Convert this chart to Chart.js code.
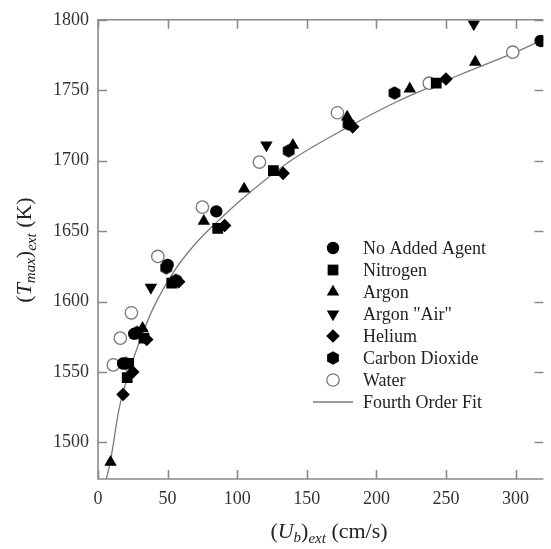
<!DOCTYPE html>
<html>
<head>
<meta charset="utf-8">
<script src="https://cdn.jsdelivr.net/npm/chart.js@4"></script>
<style>
  body { margin: 0; background: #fff; }
  canvas { display: block; }
</style>
</head>
<body>
<canvas id="tmaxchart" width="551" height="549"></canvas>
<script>
// data
const noAgentX = [18, 26, 50, 85, 318];
const noAgentY = [1556, 1577, 1626, 1664, 1785];
const nitrogenX = [21, 22, 33, 53, 86, 126, 243];
const nitrogenY = [1546, 1556, 1574, 1613, 1652, 1693, 1755];
const argonX = [9, 32, 76, 105, 140, 179, 224, 271];
const argonY = [1486, 1581, 1657, 1680, 1711, 1731, 1751, 1770];
const argonAirX = [38, 121, 270];
const argonAirY = [1610, 1711, 1797];
const heliumX = [18, 25, 35, 58, 91, 133, 183, 250];
const heliumY = [1534, 1550, 1573, 1614, 1654, 1691, 1724, 1758];
const co2X = [20, 28, 49, 56, 137, 180, 213];
const co2Y = [1556, 1578, 1624, 1615, 1707, 1726, 1748];
const waterX = [11, 16, 24, 43, 75, 116, 172, 238, 298];
const waterY = [1555, 1574, 1592, 1632, 1667, 1699, 1734, 1755, 1777];
// fourth order fit, sampled off the drawn curve
const fitX = [6, 9, 15, 22, 30, 40, 55, 70, 85, 105, 140, 180, 215, 260, 300, 322];
const fitY = [1474, 1487, 1523, 1549, 1572, 1596, 1622, 1641, 1656, 1674, 1701, 1724, 1742, 1761, 1777, 1787];

const xTicks = [0, 50, 100, 150, 200, 250, 300];
const yTicks = [1500, 1550, 1600, 1650, 1700, 1750, 1800];

const serif = "'Liberation Serif', 'DejaVu Serif', serif";
const axisGray = "#8a8a8a";

function pts(xs, ys) {
  return xs.map((x, i) => ({ x: x, y: ys[i] }));
}

// hexagon marker for carbon dioxide (no built-in style for it)
function hexMarker(r) {
  const c = document.createElement("canvas");
  c.width = c.height = Math.ceil(r * 2 + 2);
  const g = c.getContext("2d");
  const m = c.width / 2;
  g.beginPath();
  for (let k = 0; k < 6; k++) {
    const a = Math.PI / 6 + k * Math.PI / 3;
    const px = m + r * Math.cos(a), py = m + r * Math.sin(a);
    k ? g.lineTo(px, py) : g.moveTo(px, py);
  }
  g.closePath();
  g.fillStyle = "#000";
  g.fill();
  return c;
}
const hexImg = hexMarker(6.8);

const sets = [
  { label: "No Added Agent", data: pts(noAgentX, noAgentY), pointStyle: "circle", radius: 6.2 },
  { label: "Nitrogen", data: pts(nitrogenX, nitrogenY), pointStyle: "rect", radius: 7.6 },
  { label: "Argon", data: pts(argonX, argonY), pointStyle: "triangle", radius: 7.2 },
  { label: 'Argon "Air"', data: pts(argonAirX, argonAirY), pointStyle: "triangle", radius: 7.2, rotation: 180 },
  { label: "Helium", data: pts(heliumX, heliumY), pointStyle: "rectRot", radius: 6.8 },
  { label: "Carbon Dioxide", data: pts(co2X, co2Y), pointStyle: hexImg, radius: 6.8 },
  { label: "Water", data: pts(waterX, waterY), pointStyle: "circle", radius: 6.2, open: true }
];

const datasets = [{
  label: "Fourth Order Fit",
  data: pts(fitX, fitY),
  showLine: true,
  pointRadius: 0,
  borderColor: "#7a7a7a",
  borderWidth: 1.3,
  cubicInterpolationMode: "monotone",
  order: 10
}].concat(sets.map(s => ({
  label: s.label,
  data: s.data,
  pointStyle: s.pointStyle,
  pointRadius: s.radius,
  pointRotation: s.rotation || 0,
  backgroundColor: s.open ? "#ffffff" : "#000000",
  borderColor: s.open ? "#777777" : "#000000",
  borderWidth: s.open ? 1.3 : 0,
  showLine: false
})));

// draws a run of text pieces (normal / italic subscript) centred on 0,0
function drawPieces(ctx, pieces) {
  let total = 0;
  pieces.forEach(p => {
    ctx.font = (p.it ? "italic " : "") + p.size + "px " + serif;
    p.w = ctx.measureText(p.t).width;
    total += p.w;
  });
  let x = -total / 2;
  ctx.textAlign = "left";
  ctx.textBaseline = "alphabetic";
  pieces.forEach(p => {
    ctx.font = (p.it ? "italic " : "") + p.size + "px " + serif;
    ctx.fillText(p.t, x, p.dy || 0);
    x += p.w;
  });
}

const framePlugin = {
  id: "frameAndLegend",
  afterDraw: (chart) => {
    const ctx = chart.ctx;
    const a = chart.chartArea;
    const xs = chart.scales.x, ys = chart.scales.y;
    const tl = 9;
    ctx.save();
    ctx.strokeStyle = axisGray;
    ctx.lineWidth = 1.6;
    ctx.beginPath();
    ctx.moveTo(a.right, a.top); ctx.lineTo(a.left, a.top);
    ctx.lineTo(a.left, a.bottom); ctx.lineTo(a.right, a.bottom);
    xTicks.forEach(v => {
      const px = Math.round(xs.getPixelForValue(v)) + 0.5;
      ctx.moveTo(px, a.bottom); ctx.lineTo(px, a.bottom - tl);
      ctx.moveTo(px, a.top); ctx.lineTo(px, a.top + tl);
    });
    yTicks.forEach(v => {
      const py = Math.round(ys.getPixelForValue(v)) + 0.5;
      ctx.moveTo(a.left, py); ctx.lineTo(a.left + tl, py);
      ctx.moveTo(a.right, py); ctx.lineTo(a.right - tl, py);
    });
    ctx.stroke();

    // axis titles with subscripts
    ctx.fillStyle = "#222";
    ctx.save();
    ctx.translate(31, 250);
    ctx.rotate(-Math.PI / 2);
    drawPieces(ctx, [
      { t: "(", size: 22 }, { t: "T", size: 22, it: true },
      { t: "max", size: 15, it: true, dy: 4 }, { t: ")", size: 22 },
      { t: "ext", size: 15, it: true, dy: 5 }, { t: " (K)", size: 22 }
    ]);
    ctx.restore();
    ctx.save();
    ctx.translate(329, 538);
    drawPieces(ctx, [
      { t: "(", size: 22 }, { t: "U", size: 22, it: true },
      { t: "b", size: 15, it: true, dy: 4 }, { t: ")", size: 22 },
      { t: "ext", size: 15, it: true, dy: 5 }, { t: " (cm/s)", size: 22 }
    ]);
    ctx.restore();

    // legend inside the plot
    const lx = 333, tx = 363;
    const rows = [248, 270, 292, 314, 336, 358, 380];
    ctx.font = "18px " + serif;
    ctx.textBaseline = "middle";
    ctx.textAlign = "left";
    sets.forEach((s, i) => {
      ctx.fillStyle = s.open ? "#ffffff" : "#000000";
      ctx.strokeStyle = s.open ? "#777777" : "#000000";
      ctx.lineWidth = s.open ? 1.3 : 0;
      Chart.helpers.drawPoint(ctx, {
        pointStyle: s.pointStyle, radius: s.radius,
        rotation: s.rotation || 0, borderWidth: s.open ? 1.3 : 0
      }, lx, rows[i]);
      ctx.fillStyle = "#222";
      ctx.fillText(s.label, tx, rows[i] + 1);
    });
    ctx.strokeStyle = "#7a7a7a";
    ctx.lineWidth = 1.3;
    ctx.beginPath();
    ctx.moveTo(313, 402); ctx.lineTo(353, 402);
    ctx.stroke();
    ctx.fillStyle = "#222";
    ctx.fillText("Fourth Order Fit", tx, 403);
    ctx.restore();
  }
};

var tctx = document.getElementById("tmaxchart").getContext("2d");

var configChart = {
  type: "scatter",
  plugins: [framePlugin],
  data: { datasets: datasets },
  options: {
    responsive: false,
    animation: false,
    layout: { padding: { top: 19, right: 0, left: 0, bottom: 0 } },
    plugins: {
      legend: { display: false },
      tooltip: { enabled: false }
    },
    scales: {
      x: {
        type: "linear",
        min: 0,
        max: 320,
        grid: { display: false, drawTicks: false },
        border: { display: false },
        afterBuildTicks: (s) => { s.ticks = xTicks.map(v => ({ value: v })); },
        afterFit: (s) => { s.height = 70; },
        ticks: {
          padding: 9,
          color: "#333",
          font: { family: serif, size: 18 },
          callback: (v) => String(v)
        }
      },
      y: {
        type: "linear",
        min: 1474,
        max: 1800,
        grid: { display: false, drawTicks: false },
        border: { display: false },
        afterBuildTicks: (s) => { s.ticks = yTicks.map(v => ({ value: v })); },
        afterFit: (s) => { s.width = 98; },
        ticks: {
          padding: 9,
          color: "#333",
          font: { family: serif, size: 18 },
          callback: (v) => String(v)
        }
      }
    }
  }
};

var chart = new Chart(tctx, configChart);
</script>
</body>
</html>
